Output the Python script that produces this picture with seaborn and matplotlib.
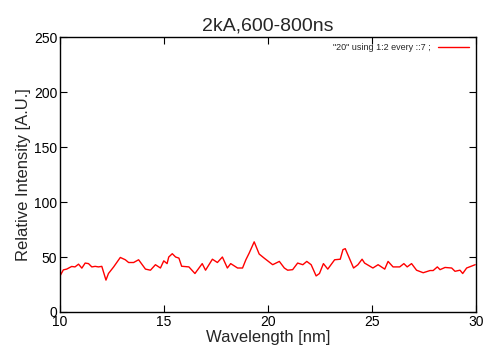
import pandas as pd
import seaborn as sns
import matplotlib
matplotlib.use("Agg")
import matplotlib.pyplot as plt

# Data
wavelength = [10.00, 10.16, 10.32, 10.56, 10.72, 10.89, 11.05, 11.21, 11.37, 11.53,
              11.69, 11.85, 12.01, 12.21, 12.33, 12.58, 12.90, 13.14, 13.30, 13.54,
              13.78, 14.11, 14.35, 14.59, 14.83, 14.99, 15.15, 15.23, 15.40, 15.56,
              15.72, 15.85, 16.20, 16.49, 16.84, 17.00, 17.33, 17.57, 17.81, 18.05,
              18.21, 18.54, 18.78, 18.94, 19.10, 19.34, 19.58, 19.82, 20.23, 20.55,
              20.79, 20.95, 21.19, 21.43, 21.68, 21.87, 22.08, 22.32, 22.48, 22.67,
              22.88, 23.21, 23.48, 23.61, 23.72, 24.12, 24.33, 24.53, 24.65, 25.05,
              25.30, 25.62, 25.78, 26.02, 26.34, 26.54, 26.70, 26.91, 27.15, 27.47,
              27.80, 27.95, 28.15, 28.28, 28.52, 28.84, 29.00, 29.24, 29.37, 29.56,
              29.97]
intensity = [32.8, 38.3, 39.0, 41.4, 41.0, 43.5, 39.9, 44.5, 44.0, 41.0,
             41.5, 41.0, 41.5, 29.0, 35.0, 41.0, 49.6, 47.5, 45.0, 45.0,
             47.5, 39.0, 38.0, 43.0, 40.0, 46.5, 44.0, 50.0, 53.0, 50.0,
             49.0, 41.6, 41.0, 35.0, 44.0, 38.0, 48.0, 45.0, 50.0, 40.0,
             44.0, 40.0, 40.0, 47.5, 53.6, 63.8, 52.7, 49.0, 43.0, 46.0,
             40.0, 38.0, 38.5, 44.5, 43.0, 46.0, 43.0, 32.8, 35.0, 44.0,
             39.0, 47.5, 48.0, 56.7, 57.6, 40.0, 43.0, 48.0, 44.5, 40.0,
             43.0, 39.0, 46.0, 41.0, 41.0, 44.0, 41.0, 44.0, 38.0, 35.7,
             37.7, 37.7, 41.0, 38.5, 40.5, 40.0, 37.0, 38.0, 35.0, 40.0,
             43.0]

df = pd.DataFrame({"Wavelength": wavelength, "Intensity": intensity})

sns.set_theme(style="ticks")
plt.rcParams["font.family"] = ["Liberation Sans", "DejaVu Sans"]

fig = plt.figure(figsize=(4.86, 3.5), dpi=100)
ax = fig.add_axes([0.1235, 0.1086, 0.8555, 0.7854])

sns.lineplot(data=df, x="Wavelength", y="Intensity", ax=ax, color="#ff0000",
             linewidth=1.0, label='"20" using 1:2 every ::7 ;')

ax.set_xlim(10, 30)
ax.set_ylim(0, 250)
ax.set_xticks([10, 15, 20, 25, 30])
ax.set_yticks([0, 50, 100, 150, 200, 250])
ax.tick_params(direction="in", top=True, right=True, length=5, width=0.8,
               labelsize=10, pad=2, colors="black")
for s in ax.spines.values():
    s.set_visible(True)
    s.set_linewidth(1.0)
    s.set_color("black")

ax.set_title("2kA,600-800ns", fontsize=14, pad=5)
ax.set_xlabel("Wavelength [nm]", fontsize=12, labelpad=1)
ax.set_ylabel("Relative Intensity [A.U.]", fontsize=12, labelpad=2)

leg = ax.legend(loc="upper right", frameon=False, fontsize=6.5,
                handlelength=3.5, markerfirst=False, borderaxespad=0.3)

fig.savefig("out.png", dpi=100)
